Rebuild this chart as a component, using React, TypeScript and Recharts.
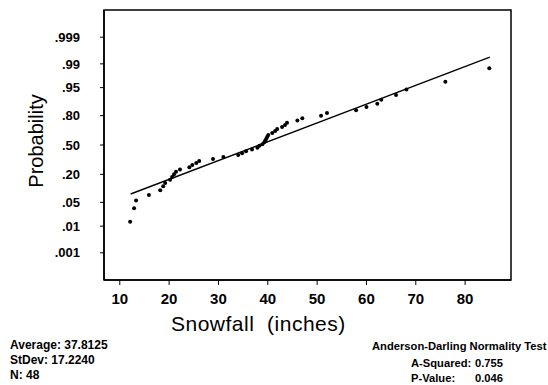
import React from 'react'
import { ScatterChart, Scatter, XAxis, YAxis, ReferenceArea } from 'recharts'

// snowfall readings (inches), sorted, and their plotted probabilities
const snowfall = [
  12.1, 12.9, 13.3, 15.9, 18.2, 18.8, 19.2, 20.2, 20.6, 21.0, 21.4, 22.2,
  24.1, 24.7, 25.5, 26.1, 28.9, 31.0, 34.0, 34.8, 35.6, 36.8, 37.9, 38.3,
  38.9, 39.3, 39.5, 39.7, 39.9, 40.1, 40.9, 41.5, 41.9, 42.9, 43.5, 43.9,
  46.0, 47.0, 50.8, 52.0, 57.9, 60.0, 62.2, 63.0, 66.0, 68.1, 76.0, 84.9,
]
const probability = [
  0.014, 0.035, 0.056, 0.076, 0.097, 0.118, 0.138, 0.159, 0.180, 0.200, 0.221, 0.242,
  0.262, 0.283, 0.304, 0.324, 0.345, 0.366, 0.386, 0.407, 0.428, 0.448, 0.469, 0.490,
  0.510, 0.531, 0.552, 0.572, 0.593, 0.614, 0.634, 0.655, 0.676, 0.696, 0.717, 0.738,
  0.758, 0.779, 0.800, 0.820, 0.841, 0.862, 0.882, 0.903, 0.924, 0.944, 0.965, 0.986,
]

// fitted normal line, two ends
const fitSnowfall = [12.2, 85.0]
const fitProbability = [0.080, 0.9941]

const xTicks = [10, 20, 30, 40, 50, 60, 70, 80]
const probTicks = [0.001, 0.01, 0.05, 0.2, 0.5, 0.8, 0.95, 0.99, 0.999]
const probLabels = ['.001', '.01', '.05', '.20', '.50', '.80', '.95', '.99', '.999']

const FONT = "'Liberation Sans', Arial, Helvetica, sans-serif"

// inverse normal cdf (Acklam) - the probability axis scale
const probit = (p: number) => {
  const a = [-39.69683028665376, 220.9460984245205, -275.9285104469687, 138.357751867269, -30.66479806614716, 2.506628277459239]
  const b = [-54.47609879822406, 161.5858368580409, -155.6989798598866, 66.80131188771972, -13.28068155288572]
  const c = [-0.007784894002430293, -0.3223964580411365, -2.400758277161838, -2.549732539343734, 4.374664141464968, 2.938163982698783]
  const d = [0.007784695709041462, 0.3224671290700398, 2.445134137142996, 3.754408661907416]
  const tail = (q: number) =>
    (((((c[0] * q + c[1]) * q + c[2]) * q + c[3]) * q + c[4]) * q + c[5]) /
    ((((d[0] * q + d[1]) * q + d[2]) * q + d[3]) * q + 1)
  if (p < 0.02425) return tail(Math.sqrt(-2 * Math.log(p)))
  if (p > 1 - 0.02425) return -tail(Math.sqrt(-2 * Math.log(1 - p)))
  const q = p - 0.5
  const r = q * q
  return ((((((a[0] * r + a[1]) * r + a[2]) * r + a[3]) * r + a[4]) * r + a[5]) * q) /
    (((((b[0] * r + b[1]) * r + b[2]) * r + b[3]) * r + b[4]) * r + 1)
}

const points = snowfall.map((x, i) => ({ x, z: probit(probability[i]) }))
const fitLine = fitSnowfall.map((x, i) => ({ x, z: probit(fitProbability[i]) }))
const yTicks = probTicks.map(probit)

const XTick = ({ x, y, payload }: any) => (
  <text x={x} y={y + 16.5} textAnchor="middle" fontFamily={FONT} fontWeight="bold" fontSize={15} fill="#000">
    {payload.value}
  </text>
)

const YTick = ({ x, y, payload }: any) => {
  let idx = 0
  yTicks.forEach((t, i) => {
    if (Math.abs(t - payload.value) < Math.abs(yTicks[idx] - payload.value)) idx = i
  })
  return (
    <text x={x - 18} y={y + 4.7} textAnchor="end" fontFamily={FONT} fontWeight="bold" fontSize={13} fill="#000">
      {probLabels[idx]}
    </text>
  )
}

const Dot = ({ cx, cy }: any) => <circle cx={cx} cy={cy} r={2} fill="#000" />

export default function App() {
  return (
    <div style={{ position: 'absolute', left: 0, top: 0, width: 548, height: 385, overflow: 'hidden', background: '#fff' }}>
      <ScatterChart width={548} height={385} margin={{ top: 10, right: 37, bottom: 0, left: 0 }}>
        <XAxis
          type="number"
          dataKey="x"
          domain={[6.8, 89.3]}
          ticks={xTicks}
          interval={0}
          allowDataOverflow
          height={105}
          tickSize={5}
          axisLine={{ stroke: '#000', strokeWidth: 1.5 }}
          tickLine={{ stroke: '#000' }}
          tick={<XTick />}
        />
        <YAxis
          type="number"
          dataKey="z"
          domain={[-3.87, 3.87]}
          ticks={yTicks}
          interval={0}
          allowDataOverflow
          width={104}
          tickSize={4}
          axisLine={{ stroke: '#000', strokeWidth: 1.5 }}
          tickLine={{ stroke: '#000' }}
          tick={<YTick />}
        />
        <ReferenceArea x1={6.8} x2={89.3} y1={-3.87} y2={3.87} fill="none" stroke="#000" strokeWidth={1.5} ifOverflow="visible" />
        <Scatter
          data={fitLine}
          line={{ stroke: '#000', strokeWidth: 1.4 }}
          lineType="joint"
          shape={() => <g />}
          isAnimationActive={false}
        />
        <Scatter data={points} shape={<Dot />} isAnimationActive={false} />
      </ScatterChart>
      <svg width={548} height={385} style={{ position: 'absolute', left: 0, top: 0, pointerEvents: 'none' }}>
        <text transform="translate(43,141) rotate(-90)" textAnchor="middle" fontFamily={FONT} fontSize={20} fill="#000">
          Probability
        </text>
        <text x={171} y={331} fontFamily={FONT} fontSize={21} letterSpacing={0.5} fill="#000" style={{ whiteSpace: 'pre' }}>
          {'Snowfall  (inches)'}
        </text>
        <g fontFamily={FONT} fontWeight="bold" fontSize={12} fill="#000">
          <text x={10} y={348.5}>Average: 37.8125</text>
          <text x={10} y={364}>StDev: 17.2240</text>
          <text x={10} y={378.5}>N: 48</text>
        </g>
        <g fontFamily={FONT} fontWeight="bold" fontSize={11.2} fill="#000">
          <text x={372} y={350}>Anderson-Darling Normality Test</text>
          <text x={411} y={367}>A-Squared:</text>
          <text x={475} y={367}>0.755</text>
          <text x={411} y={382}>P-Value:</text>
          <text x={475} y={382}>0.046</text>
        </g>
      </svg>
    </div>
  )
}
